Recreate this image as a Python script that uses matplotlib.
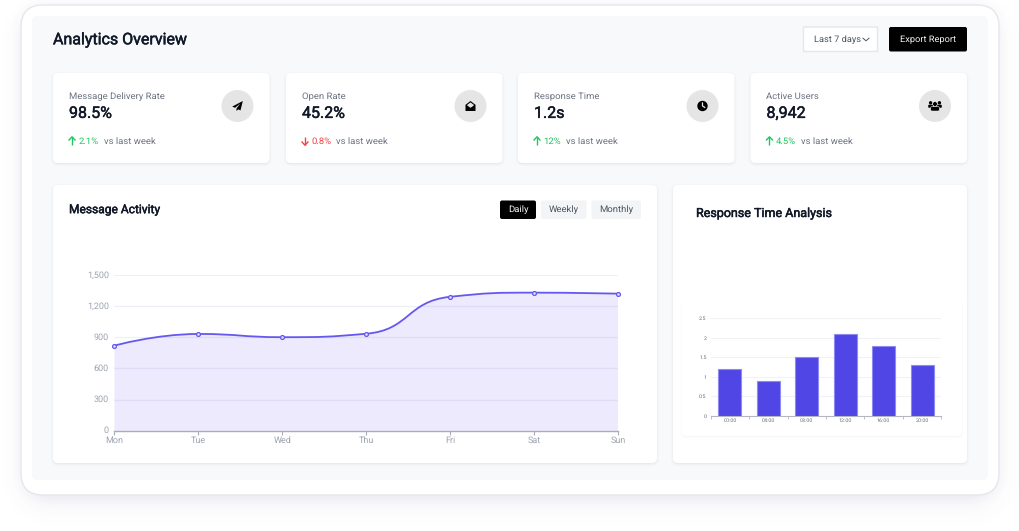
"""Analytics dashboard mock-up: KPI cards, message activity area chart, response time bars."""

import numpy as np
import matplotlib
matplotlib.use("Agg")
import matplotlib.pyplot as plt
import matplotlib.patheffects as pe
from matplotlib.patches import Circle, FancyBboxPatch, PathPatch, Polygon
from matplotlib.path import Path
from matplotlib.transforms import ScaledTranslation

W, H = 1020, 531

DAYS = ["Mon", "Tue", "Wed", "Thu", "Fri", "Sat", "Sun"]
MESSAGES = [820, 932, 901, 934, 1290, 1330, 1320]
ACTIVITY_TICKS = [0, 300, 600, 900, 1200, 1500]

HOURS = ["00:00", "04:00", "08:00", "12:00", "16:00", "20:00"]
RESPONSE_TIMES = [1.2, 0.9, 1.5, 2.1, 1.8, 1.3]
RESPONSE_TICKS = [0, 0.5, 1, 1.5, 2, 2.5]
RESPONSE_TICK_LABELS = ["0", "0.5", "1", "1.5", "2", "2.5"]

KPI_LABELS = ["Message Delivery Rate", "Open Rate", "Response Time", "Active Users"]
KPI_VALUES = ["98.5%", "45.2%", "1.2s", "8,942"]
KPI_CHANGES = ["2.1%", "0.8%", "12%", "4.5%"]
KPI_UP = [True, False, True, True]

INDIGO = "#6558ee"
BAR = "#4f46e5"
DARK = "#111827"
GREY = "#6b7280"
TICK = "#9ca3af"
GREEN = "#22c55e"
RED = "#ef4444"

plt.rcParams["font.family"] = ["Roboto", "DejaVu Sans"]
plt.rcParams["text.hinting"] = "no_hinting"

fig = plt.figure(figsize=(W / 100, H / 100), dpi=100, facecolor="white")
bg = fig.add_axes([0, 0, 1, 1])
bg.axis("off")


def px_axes(x0, y0, x1, y1):
    ax = fig.add_axes([x0 / W, 1 - y1 / H, (x1 - x0) / W, (y1 - y0) / H])
    ax.patch.set_alpha(0)
    return ax


def box(x0, y0, x1, y1, r, fc, ec="none", lw=0, z=2):
    bg.add_patch(FancyBboxPatch((x0, y0), x1 - x0, y1 - y0,
                                boxstyle=f"round,pad=0,rounding_size={r}",
                                fc=fc, ec=ec, lw=lw, zorder=z))


def shadow(x0, y0, x1, y1, r, sigma, rgb, alpha, z=1):
    # soft drop shadow from the signed distance to a rounded rectangle
    xx, yy = np.meshgrid(np.arange(W) + 0.5, np.arange(H) + 0.5)
    qx = np.abs(xx - (x0 + x1) / 2) - (x1 - x0) / 2 + r
    qy = np.abs(yy - (y0 + y1) / 2) - (y1 - y0) / 2 + r
    sd = np.hypot(np.maximum(qx, 0), np.maximum(qy, 0)) + np.minimum(np.maximum(qx, qy), 0) - r
    img = np.zeros((H, W, 4))
    img[..., :3] = rgb
    img[..., 3] = alpha / (1 + np.exp(np.clip(sd * 1.7 / sigma, -30, 30)))
    bg.imshow(img, extent=(0, W, H, 0), aspect="auto", zorder=z, interpolation="nearest")


def card(x0, y0, x1, y1, r=5):
    shadow(x0, y0 + 1, x1, y1 + 1, r, 1.6, (0.1, 0.1, 0.2), 0.10, z=2)
    box(x0, y0, x1, y1, r, "white", z=3)


def label(x, y, s, size, color=GREY, ha="left", heavy=False, z=6):
    t = bg.text(x, y, s, fontsize=size * 0.72, color=color, ha=ha, va="center", zorder=z)
    if heavy:
        # thin stroke stands in for the medium weight
        t.set_path_effects([pe.withStroke(linewidth=0.35, foreground=color)])


def arrow(x, y, color, up):
    s = -1 if up else 1
    bg.plot([x, x], [y - 4 * s, y + 4.2 * s], color=color, lw=1.0, solid_capstyle="butt", zorder=6)
    bg.plot([x - 3, x, x + 3], [y + s, y + 4.2 * s, y + s], color=color, lw=1.0, zorder=6)


def icon_plane(cx, cy):
    pts = [(5.3, -5), (-5.3, 0.6), (-2.4, 1.8), (2.8, -2.6), (-1, 2.5), (-1, 5), (0.7, 3.4), (3, 4.4)]
    bg.add_patch(Polygon([(cx + a, cy + b) for a, b in pts], fc="black", ec="none", zorder=6))


def icon_mail(cx, cy):
    pts = [(-5, -1.2), (0, -5), (5, -1.2), (5, 5), (-5, 5)]
    bg.add_patch(Polygon([(cx + a, cy + b) for a, b in pts], fc="black", ec="none", zorder=6))
    pts = [(-3.2, -1.2), (0, -3.6), (3.2, -1.2), (3.2, -0.4), (0, 1.8), (-3.2, -0.4)]
    bg.add_patch(Polygon([(cx + a, cy + b) for a, b in pts], fc="#e5e5e5", ec="none", zorder=7))


def icon_clock(cx, cy):
    bg.add_patch(Circle((cx, cy), 5.2, fc="black", ec="none", zorder=6))
    bg.plot([cx, cx, cx + 2.2], [cy - 3, cy, cy + 1.4], color="#e5e5e5", lw=0.9, zorder=7)


def icon_users(cx, cy):
    for s in (-1, 1):
        bg.add_patch(Circle((cx + s * 4.4, cy - 3.2), 1.7, fc="black", ec="none", zorder=6))
        box(min(cx + s * 2, cx + s * 6.8), cy - 1.3, max(cx + s * 2, cx + s * 6.8), cy + 1.8, 1, "black", z=6)
    bg.add_patch(Circle((cx, cy - 2), 2.3, fc="black", ec="#e5e5e5", lw=0.4, zorder=7))
    box(cx - 4.3, cy + 0.6, cx + 4.3, cy + 5, 1.2, "black", ec="#e5e5e5", lw=0.4, z=7)


def smooth_path(xs, ys, sx, sy, smooth=0.5):
    # bezier through the data points, control points clamped so nothing overshoots
    pts = np.column_stack([np.asarray(xs) * sx, np.asarray(ys) * sy]).astype(float)
    verts = [pts[0]]
    codes = [Path.MOVETO]
    cp0 = pts[0]
    for i in range(1, len(pts)):
        p = pts[i]
        if i < len(pts) - 1:
            prev, nxt = pts[i - 1], pts[i + 1]
            d_prev = np.linalg.norm(p - prev)
            d_next = np.linalg.norm(nxt - p)
            ratio = d_next / (d_next + d_prev)
            next_cp0 = p + (nxt - prev) * smooth * ratio
            next_cp0 = np.clip(next_cp0, np.minimum(nxt, p), np.maximum(nxt, p))
            cp1 = p - (next_cp0 - p) * d_prev / d_next
            cp1 = np.clip(cp1, np.minimum(prev, p), np.maximum(prev, p))
            next_cp0 = p + (p - cp1) * d_next / d_prev
        else:
            cp1 = p
            next_cp0 = p
        verts += [cp0, cp1, p]
        codes += [Path.CURVE4, Path.CURVE4, Path.CURVE4]
        cp0 = next_cp0
    return np.array(verts) / [sx, sy], codes


# page chrome
shadow(31, 22, 989, 497, 22, 14, (0.38, 0.34, 0.62), 0.17, z=0.5)
shadow(21, 5, 999, 495, 22, 6, (0.38, 0.34, 0.62), 0.05, z=0.6)
box(21, 5, 999, 495, 22, "white", ec="#e5e7eb", lw=1, z=1)
box(32, 16, 988, 480, 6, "#f8f9fb", z=1.5)

label(53, 40, "Analytics Overview", 16, DARK, heavy=True)

box(803.5, 27, 877.5, 51.5, 0.1, "white", ec="#e5e7eb", lw=1, z=3)
label(814, 40, "Last 7 days", 9.3, "#4b5563")
bg.plot([863, 866, 869], [38.2, 40.8, 38.2], color="#4b5563", lw=0.7, zorder=6)
box(889, 27, 967, 51.5, 2, "black", z=3)
label(928, 40, "Export Report", 9.3, "#f3f4f6", ha="center")

# KPI cards
CARD_X = [53, 286, 518, 750.5]
VS_OFFSET = [51, 50, 48, 50.5]
ICONS = [icon_plane, icon_mail, icon_clock, icon_users]
for i, x in enumerate(CARD_X):
    card(x, 73, x + 216.5, 163)
    label(x + 16, 96.5, KPI_LABELS[i], 9.45, GREY)
    label(x + 16, 113.5, KPI_VALUES[i], 16, DARK, heavy=True)
    colour = GREEN if KPI_UP[i] else RED
    arrow(x + 19, 141, colour, KPI_UP[i])
    label(x + 25.5, 141.3, KPI_CHANGES[i], 9.45, colour)
    label(x + VS_OFFSET[i], 141.3, "vs last week", 9.45, GREY)
    cx = x + 184.5
    bg.add_patch(Circle((cx, 106), 16, fc="#e5e5e5", ec="none", zorder=5))
    ICONS[i](cx, 106)

# chart cards
card(53, 185, 657, 463)
card(673, 185, 967, 463)
shadow(682, 300, 962, 437, 5, 1.5, (0.1, 0.1, 0.2), 0.05, z=3.1)
box(682, 280, 962, 436, 5, "white", z=3.2)

label(69, 210, "Message Activity", 12, DARK, heavy=True)
label(696, 213.5, "Response Time Analysis", 12.5, DARK, heavy=True)

for x0, x1, txt, fc, col in [(500, 536, "Daily", "black", "#f3f4f6"),
                             (541, 586.5, "Weekly", "#f3f4f6", "#4b5563"),
                             (591.5, 641, "Monthly", "#f3f4f6", "#4b5563")]:
    box(x0, 200.5, x1, 219, 2, fc, z=4)
    label((x0 + x1) / 2, 210, txt, 9.5, col, ha="center")

bg.set_xlim(0, W)
bg.set_ylim(H, 0)

# message activity chart
ax = px_axes(114.5, 275, 618, 430.7)
x = np.arange(len(DAYS))
verts, codes = smooth_path(x, MESSAGES, 503.5 / 6, 155.7 / 1500)
ax.set_xlim(0, len(DAYS) - 1)
ax.set_ylim(0, 1500)
ax.add_patch(PathPatch(Path(verts, codes), fc="none", ec=INDIGO, lw=1.3, zorder=4, clip_on=False))
area_v = np.vstack([verts, [[x[-1], 0], [x[0], 0], verts[0]]])
area_c = codes + [Path.LINETO, Path.LINETO, Path.CLOSEPOLY]
ax.add_patch(PathPatch(Path(area_v, area_c), fc=INDIGO, alpha=0.12, ec="none", zorder=3))
ax.plot(x, MESSAGES, ls="none", marker="o", ms=2.8, mfc="#dcdcfb", mec=INDIGO, mew=0.9, zorder=5, clip_on=False)
ax.set_xticks(x, DAYS)
ax.set_yticks(ACTIVITY_TICKS, [f"{v:,}" for v in ACTIVITY_TICKS])
ax.grid(axis="y", color="#eef0f7", lw=0.9, zorder=1)
ax.set_axisbelow(True)
for side in ["top", "right", "left"]:
    ax.spines[side].set_visible(False)
ax.spines["bottom"].set_color("#a9acb8")
ax.spines["bottom"].set_linewidth(1)
ax.tick_params(axis="x", length=3, width=0.8, color="#a9acb8", labelsize=6.5, labelcolor=TICK, pad=0.8)
ax.tick_params(axis="y", length=0, labelsize=6.5, labelcolor=TICK, pad=4)
for t in ax.get_yticklabels():
    t.set_transform(t.get_transform() + ScaledTranslation(0, 1 / 100, fig.dpi_scale_trans))

# response time chart
ax2 = px_axes(710.7, 318.3, 941.3, 415.7)
pos = np.arange(len(HOURS))
ax2.bar(pos, RESPONSE_TIMES, width=0.6, color=BAR, edgecolor="#8f89f2", linewidth=0.8, zorder=3)
ax2.set_xlim(-0.5, len(HOURS) - 0.5)
ax2.set_ylim(0, 2.5)
ax2.set_xticks(pos, HOURS)
ax2.set_xticks(np.arange(len(HOURS) + 1) - 0.5, minor=True)
ax2.set_yticks(RESPONSE_TICKS, RESPONSE_TICK_LABELS)
ax2.grid(axis="y", color="#f1f2f6", lw=0.8, zorder=1)
ax2.set_axisbelow(True)
for side in ["top", "right", "left"]:
    ax2.spines[side].set_visible(False)
ax2.spines["bottom"].set_color("#b4b6c0")
ax2.tick_params(axis="x", which="major", length=0, labelsize=3.9, labelcolor=GREY, pad=2)
ax2.tick_params(axis="x", which="minor", length=2, width=0.6, color="#b4b6c0")
ax2.tick_params(axis="y", length=0, labelsize=3.9, labelcolor=GREY, pad=3)

fig.savefig("out.png", dpi=100)
